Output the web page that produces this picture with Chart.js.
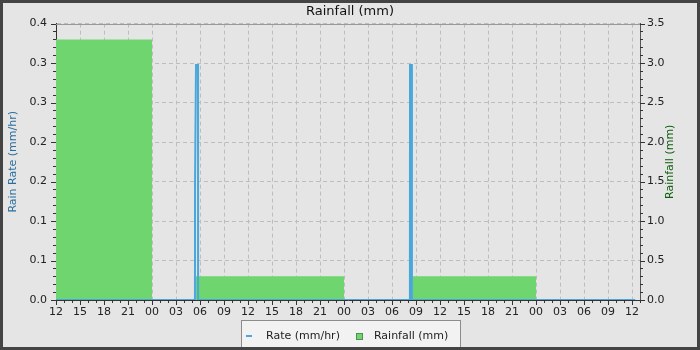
<!DOCTYPE html>
<html>
<head>
<meta charset="utf-8">
<script src="https://cdn.jsdelivr.net/npm/chart.js@4.4.1/dist/chart.umd.min.js"></script>
<style>
  html, body { margin: 0; padding: 0; background: #e5e5e5; }
  #wrap { width: 700px; height: 350px; }
</style>
</head>
<body>
<div id="wrap"><canvas id="rain" width="700" height="350"></canvas></div>
<script>
// x values are hours counted from 12:00 on the first day
const hourLabels = ['12', '15', '18', '21', '00', '03', '06', '09',
  '12', '15', '18', '21', '00', '03', '06', '09',
  '12', '15', '18', '21', '00', '03', '06', '09', '12'];

// rain rate (mm/hr)
const rateHours = [0, 17.37, 17.38, 17.5, 17.75, 17.76, 44.24, 44.25, 44.48, 44.49, 72.4];
const rateValues = [0, 0, 0.17, 0.34, 0.34, 0, 0, 0.34, 0.34, 0, 0];

// daily rainfall (mm), each value holds until the next time
const rainHours = [0, 12, 17.5, 36, 44.6, 60, 72.4];
const rainValues = [3.3, 0, 0.3, 0, 0.3, 0, 0];

const rateColor = '#4aa7da';
const rainColor = '#6fd56f';

Chart.defaults.font.family = '"DejaVu Sans", sans-serif';
Chart.defaults.font.size = 11;
Chart.defaults.color = '#222';

const toPoints = (xs, ys) => xs.map((x, i) => ({ x: x, y: ys[i] }));

// background, plot frame top line, minor ticks, right axis title
const decor = {
  id: 'decor',
  beforeDraw(chart) {
    const ctx = chart.ctx;
    ctx.save();
    ctx.fillStyle = '#e5e5e5';
    ctx.fillRect(0, 0, chart.width, chart.height);
    ctx.restore();
  },
  afterDraw(chart) {
    const ctx = chart.ctx;
    const area = chart.chartArea;
    const x = chart.scales.x;
    const yl = chart.scales.yRate;
    const yr = chart.scales.yRain;
    ctx.save();
    ctx.strokeStyle = '#999';
    ctx.lineWidth = 1;
    ctx.beginPath();
    ctx.moveTo(area.left, Math.round(area.top) + 0.5);
    ctx.lineTo(area.right, Math.round(area.top) + 0.5);
    ctx.stroke();

    ctx.strokeStyle = '#333';
    ctx.beginPath();
    for (let h = 0; h <= x.max; h++) {
      const px = Math.round(x.getPixelForValue(h)) + 0.5;
      const len = h % 3 === 0 ? 5 : 3;
      ctx.moveTo(px, area.bottom);
      ctx.lineTo(px, area.bottom + len);
    }
    for (let i = 0; i <= 35; i++) {
      const len = i % 5 === 0 ? 5 : 3;
      const pl = Math.round(yl.getPixelForValue(yl.max * i / 35)) + 0.5;
      ctx.moveTo(area.left, pl);
      ctx.lineTo(area.left - len, pl);
      const pr = Math.round(yr.getPixelForValue(yr.max * i / 35)) + 0.5;
      ctx.moveTo(area.right, pr);
      ctx.lineTo(area.right + len, pr);
    }
    ctx.stroke();

    // right title reads bottom to top like the left one
    ctx.translate(670, (area.top + area.bottom) / 2);
    ctx.rotate(-Math.PI / 2);
    ctx.font = '11px "DejaVu Sans"';
    ctx.fillStyle = '#0d5e0d';
    ctx.textAlign = 'center';
    ctx.textBaseline = 'middle';
    ctx.fillText('Rainfall (mm)', 0, 0);
    ctx.restore();
  }
};

// framed legend under the x axis
const legendBox = {
  id: 'legendBox',
  afterDraw(chart) {
    const ctx = chart.ctx;
    const ds = chart.data.datasets;
    ctx.save();
    ctx.font = '11px "DejaVu Sans"';
    const w0 = ctx.measureText(ds[0].label).width;
    const left = 241.5;
    const boxW = 219;
    const top = 320.5;
    const cy = 336;
    ctx.fillStyle = '#f2f2f2';
    ctx.fillRect(left, top, boxW, 28);
    ctx.strokeStyle = '#8c8c8c';
    ctx.lineWidth = 1;
    ctx.strokeRect(left, top, boxW, 28);

    let cx = left + 4.5;
    ctx.strokeStyle = ds[0].borderColor;
    ctx.lineWidth = 2;
    ctx.beginPath();
    ctx.moveTo(cx, cy);
    ctx.lineTo(cx + 6, cy);
    ctx.stroke();
    cx += 6 + 14;
    ctx.fillStyle = '#222';
    ctx.textBaseline = 'middle';
    ctx.fillText(ds[0].label, cx, cy);
    cx += w0 + 16;
    ctx.fillStyle = ds[1].backgroundColor;
    ctx.fillRect(Math.round(cx), cy - 3, 6, 6);
    ctx.strokeStyle = '#4f8f4f';
    ctx.lineWidth = 1;
    ctx.strokeRect(Math.round(cx) + 0.5, cy - 3 + 0.5, 6, 6);
    cx += 6 + 12;
    ctx.fillStyle = '#222';
    ctx.fillText(ds[1].label, cx, cy);
    ctx.restore();
  }
};

const outerBorder = {
  id: 'outerBorder',
  afterDraw(chart) {
    const ctx = chart.ctx;
    ctx.save();
    ctx.strokeStyle = '#444';
    ctx.lineWidth = 3;
    ctx.strokeRect(1.5, 1.5, chart.width - 3, chart.height - 3);
    ctx.restore();
  }
};

const rainChart = new Chart(document.getElementById('rain'), {
  type: 'line',
  data: {
    datasets: [
      {
        label: 'Rate (mm/hr)',
        data: toPoints(rateHours, rateValues),
        yAxisID: 'yRate',
        borderColor: rateColor,
        borderWidth: 2,
        pointRadius: 0,
        fill: false,
        tension: 0,
        borderJoinStyle: 'miter',
      },
      {
        label: 'Rainfall (mm)',
        data: toPoints(rainHours, rainValues),
        yAxisID: 'yRain',
        stepped: true,
        borderWidth: 0,
        borderColor: rainColor,
        backgroundColor: rainColor,
        pointRadius: 0,
        fill: 'origin',
      },
    ],
  },
  options: {
    responsive: false,
    animation: false,
    devicePixelRatio: 1,
    layout: { padding: { left: 0, right: 0, top: 0, bottom: 30 } },
    plugins: {
      legend: { display: false },
      tooltip: { enabled: false },
      title: {
        display: true,
        text: 'Rainfall (mm)',
        color: '#111',
        font: { size: 13, weight: 'normal' },
        padding: { top: 4, bottom: 4 },
      },
    },
    scales: {
      x: {
        type: 'linear',
        min: 0,
        max: 73,
        ticks: {
          stepSize: 3,
          includeBounds: false,
          autoSkip: false,
          maxRotation: 0,
          padding: 6,
          callback: (v) => hourLabels[Math.round(v / 3)],
        },
        grid: { color: '#bdbdbd', drawTicks: false },
        border: { display: true, color: '#333', dash: [4, 3] },
        afterFit: (s) => { s.height = 20; },
      },
      yRate: {
        position: 'left',
        min: 0,
        max: 0.4,
        ticks: { count: 8, padding: 9, callback: (v) => v.toFixed(1) },
        grid: { color: '#bdbdbd', drawTicks: false },
        border: { display: true, color: '#333', dash: [4, 3] },
        title: {
          display: true,
          text: 'Rain Rate (mm/hr)',
          color: '#2a6e9e',
          padding: { top: 7, bottom: 0 },
        },
        afterFit: (s) => { s.width = 56; },
      },
      yRain: {
        position: 'right',
        min: 0,
        max: 3.5,
        ticks: { count: 8, padding: 7, callback: (v) => v.toFixed(1) },
        grid: { drawOnChartArea: false, drawTicks: false },
        border: { display: true, color: '#555' },
        afterFit: (s) => { s.width = 60; },
      },
    },
  },
  plugins: [decor, legendBox, outerBorder],
});
</script>
</body>
</html>
